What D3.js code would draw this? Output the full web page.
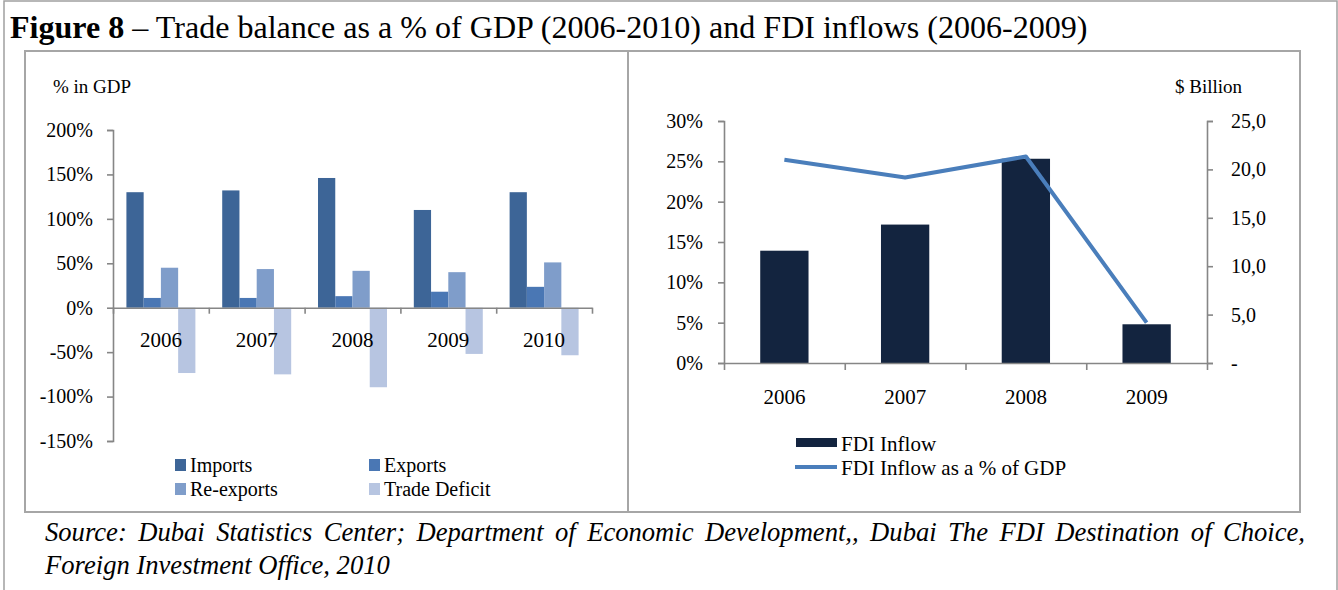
<!DOCTYPE html>
<html>
<head>
<meta charset="utf-8">
<script src="https://cdn.jsdelivr.net/npm/d3@7"></script>
<style>
  html, body { margin: 0; padding: 0; background: #fff; }
  svg { display: block; font-family: "Liberation Serif", "Times New Roman", serif; }
  .axis path, .axis line { stroke: #868686; stroke-width: 1.6; }
  .axis text { fill: #000; font-family: "Liberation Serif", "Times New Roman", serif; }
</style>
</head>
<body>
<svg id="chart" width="1338" height="590"></svg>
<script>
// trade balance, % of GDP
var years = ['2006', '2007', '2008', '2009', '2010'];
var imports = [130, 132, 146, 110, 130];
var exportsPct = [11, 11, 13, 18, 23.5];
var reexports = [45, 43.5, 41.5, 40, 51];
var deficit = [-73.5, -75, -89.5, -52, -53.5];
var tradeSeries = ['Imports', 'Exports', 'Re-exports', 'Trade Deficit'];
var tradeColors = ['#3d6597', '#4a77b4', '#7f9dca', '#b7c5e1'];
var tradeTicks = [-150, -100, -50, 0, 50, 100, 150, 200];

// FDI
var fdiYears = ['2006', '2007', '2008', '2009'];
var fdiInflow = [11.6, 14.3, 21.1, 4.0];   // $ billion
var fdiPct = [25.2, 23.0, 25.6, 5.0];      // % of GDP
var pctTicks = [0, 5, 10, 15, 20, 25, 30];
var bnTicks = [0, 5, 10, 15, 20, 25];

var svg = d3.select('#chart');

/* frames */
svg.append('rect').attr('x', 4).attr('y', 1).attr('width', 1333).attr('height', 600)
  .attr('fill', 'none').attr('stroke', '#a0a0a0').attr('stroke-width', 1.5);
svg.append('rect').attr('x', 25).attr('y', 51).attr('width', 603).attr('height', 461)
  .attr('fill', 'none').attr('stroke', '#a6a6a6').attr('stroke-width', 2);
svg.append('rect').attr('x', 628).attr('y', 51).attr('width', 672).attr('height', 461)
  .attr('fill', 'none').attr('stroke', '#a6a6a6').attr('stroke-width', 2);

/* title */
var title = svg.append('text').attr('x', 10).attr('y', 38).style('font-size', '26px');
title.append('tspan').attr('font-weight', 'bold').text('Figure 8');
title.append('tspan').text(' \u2013 Trade balance as a % of GDP (2006-2010) and FDI inflows (2006-2009)');
fitWidth(title, 1078);

/* source */
var src1 = svg.append('text').attr('x', 45).attr('y', 541)
  .style('font-size', '21px').style('font-style', 'italic')
  .text('Source: Dubai Statistics Center; Department of Economic Development,, Dubai The FDI Destination of Choice,');
var src2 = svg.append('text').attr('x', 45).attr('y', 574)
  .style('font-size', '21px').style('font-style', 'italic')
  .text('Foreign Investment Office, 2010');
fitWidth(src2, 345);
src1.style('font-size', src2.style('font-size'));
justify(src1, 1260);

function fitWidth(sel, target) {
  var fs = parseFloat(sel.style('font-size'));
  var w = sel.node().getComputedTextLength();
  sel.style('font-size', (fs * target / w) + 'px');
}

function justify(sel, target) {
  var w = sel.node().getComputedTextLength();
  var gaps = sel.text().split(' ').length - 1;
  sel.style('word-spacing', ((target - w) / gaps) + 'px');
}

/* ---------- left chart: trade balance ---------- */
var lx = d3.scaleBand().domain(years).range([113, 592]);
var ly = d3.scaleLinear().domain([-150, 200]).range([441, 130]);
var inner = d3.scaleBand().domain(tradeSeries)
  .range([0, lx.bandwidth() * 0.72]);
var offset = lx.bandwidth() * 0.14;

var tradeValues = [imports, exportsPct, reexports, deficit];
var left = svg.append('g');

tradeSeries.forEach(function (s, si) {
  left.append('g').selectAll('rect')
    .data(tradeValues[si])
    .enter().append('rect')
    .attr('x', function (d, i) { return lx(years[i]) + offset + inner(s); })
    .attr('width', inner.bandwidth())
    .attr('y', function (d) { return ly(Math.max(0, d)); })
    .attr('height', function (d) { return Math.abs(ly(d) - ly(0)); })
    .attr('fill', tradeColors[si]);
});

left.append('g').attr('class', 'axis')
  .attr('transform', 'translate(113,0)')
  .call(d3.axisLeft(ly).tickValues(tradeTicks).tickSize(6).tickPadding(14)
    .tickFormat(function (d) { return d + '%'; }))
  .selectAll('text').style('font-size', '20px');

var lcat = d3.scaleLinear().domain([0, years.length]).range([113, 592]);
left.append('g').attr('class', 'axis')
  .attr('transform', 'translate(0,' + ly(0) + ')')
  .call(d3.axisBottom(lcat).ticks(years.length).tickSize(6).tickSizeOuter(0).tickFormat(''));

left.append('g').selectAll('text')
  .data(years).enter().append('text')
  .attr('x', function (d) { return lx(d) + lx.bandwidth() / 2; })
  .attr('y', 347)
  .attr('text-anchor', 'middle')
  .style('font-size', '21px')
  .text(function (d) { return d; });

left.append('text').attr('x', 53).attr('y', 93).style('font-size', '19px').text('% in GDP');

var lleg = left.append('g').selectAll('g')
  .data(tradeSeries).enter().append('g')
  .attr('transform', function (d, i) {
    return 'translate(' + (i % 2 ? 369 : 175) + ',' + (i < 2 ? 459 : 483) + ')';
  });
lleg.append('rect').attr('width', 11).attr('height', 12)
  .attr('fill', function (d, i) { return tradeColors[i]; });
lleg.append('text').attr('x', 15).attr('y', 13).style('font-size', '20px')
  .text(function (d) { return d; });

/* ---------- right chart: FDI ---------- */
var rx = d3.scaleBand().domain(fdiYears).range([724, 1207]).paddingInner(0.6).paddingOuter(0.3);
var rxc = d3.scaleBand().domain(fdiYears).range([724, 1207]);
var yPct = d3.scaleLinear().domain([0, 30]).range([363, 121]);
var yBn = d3.scaleLinear().domain([0, 25]).range([363, 121]);
var right = svg.append('g');

right.append('g').selectAll('rect')
  .data(fdiInflow).enter().append('rect')
  .attr('x', function (d, i) { return rx(fdiYears[i]); })
  .attr('width', rx.bandwidth())
  .attr('y', function (d) { return yBn(d); })
  .attr('height', function (d) { return yBn(0) - yBn(d); })
  .attr('fill', '#13243f');

right.append('g').attr('class', 'axis')
  .attr('transform', 'translate(724,0)')
  .call(d3.axisLeft(yPct).tickValues(pctTicks).tickSize(6).tickPadding(15)
    .tickFormat(function (d) { return d + '%'; }))
  .selectAll('text').style('font-size', '20px');

var rAxis = right.append('g').attr('class', 'axis')
  .attr('transform', 'translate(1207,0)')
  .call(d3.axisRight(yBn).tickValues(bnTicks).tickSize(6).tickPadding(18)
    .tickFormat(function (d) { return d === 0 ? '-' : d.toFixed(1).replace('.', ','); }));
rAxis.selectAll('text').style('font-size', '20px');

var rcat = d3.scaleLinear().domain([0, fdiYears.length]).range([724, 1207]);
right.append('g').attr('class', 'axis')
  .attr('transform', 'translate(0,363)')
  .call(d3.axisBottom(rcat).ticks(fdiYears.length).tickSize(7).tickSizeOuter(0).tickFormat(''));

right.append('g').selectAll('text')
  .data(fdiYears).enter().append('text')
  .attr('x', function (d) { return rxc(d) + rxc.bandwidth() / 2; })
  .attr('y', 404)
  .attr('text-anchor', 'middle')
  .style('font-size', '21px')
  .text(function (d) { return d; });

var line = d3.line()
  .x(function (d, i) { return rxc(fdiYears[i]) + rxc.bandwidth() / 2; })
  .y(function (d) { return yPct(d); });
right.append('path').datum(fdiPct)
  .attr('d', line)
  .attr('fill', 'none')
  .attr('stroke', '#4a7ebb')
  .attr('stroke-width', 4)
  .attr('stroke-linejoin', 'round');

right.append('text').attr('x', 1175).attr('y', 93).style('font-size', '19px').text('$ Billion');

right.append('rect').attr('x', 796).attr('y', 438).attr('width', 41).attr('height', 9).attr('fill', '#13243f');
right.append('text').attr('x', 841).attr('y', 451).style('font-size', '21px').text('FDI Inflow');
right.append('line').attr('x1', 795).attr('x2', 837).attr('y1', 467).attr('y2', 467)
  .attr('stroke', '#4a7ebb').attr('stroke-width', 4);
right.append('text').attr('x', 841).attr('y', 475).style('font-size', '21px').text('FDI Inflow as a % of GDP');
</script>
</body>
</html>
